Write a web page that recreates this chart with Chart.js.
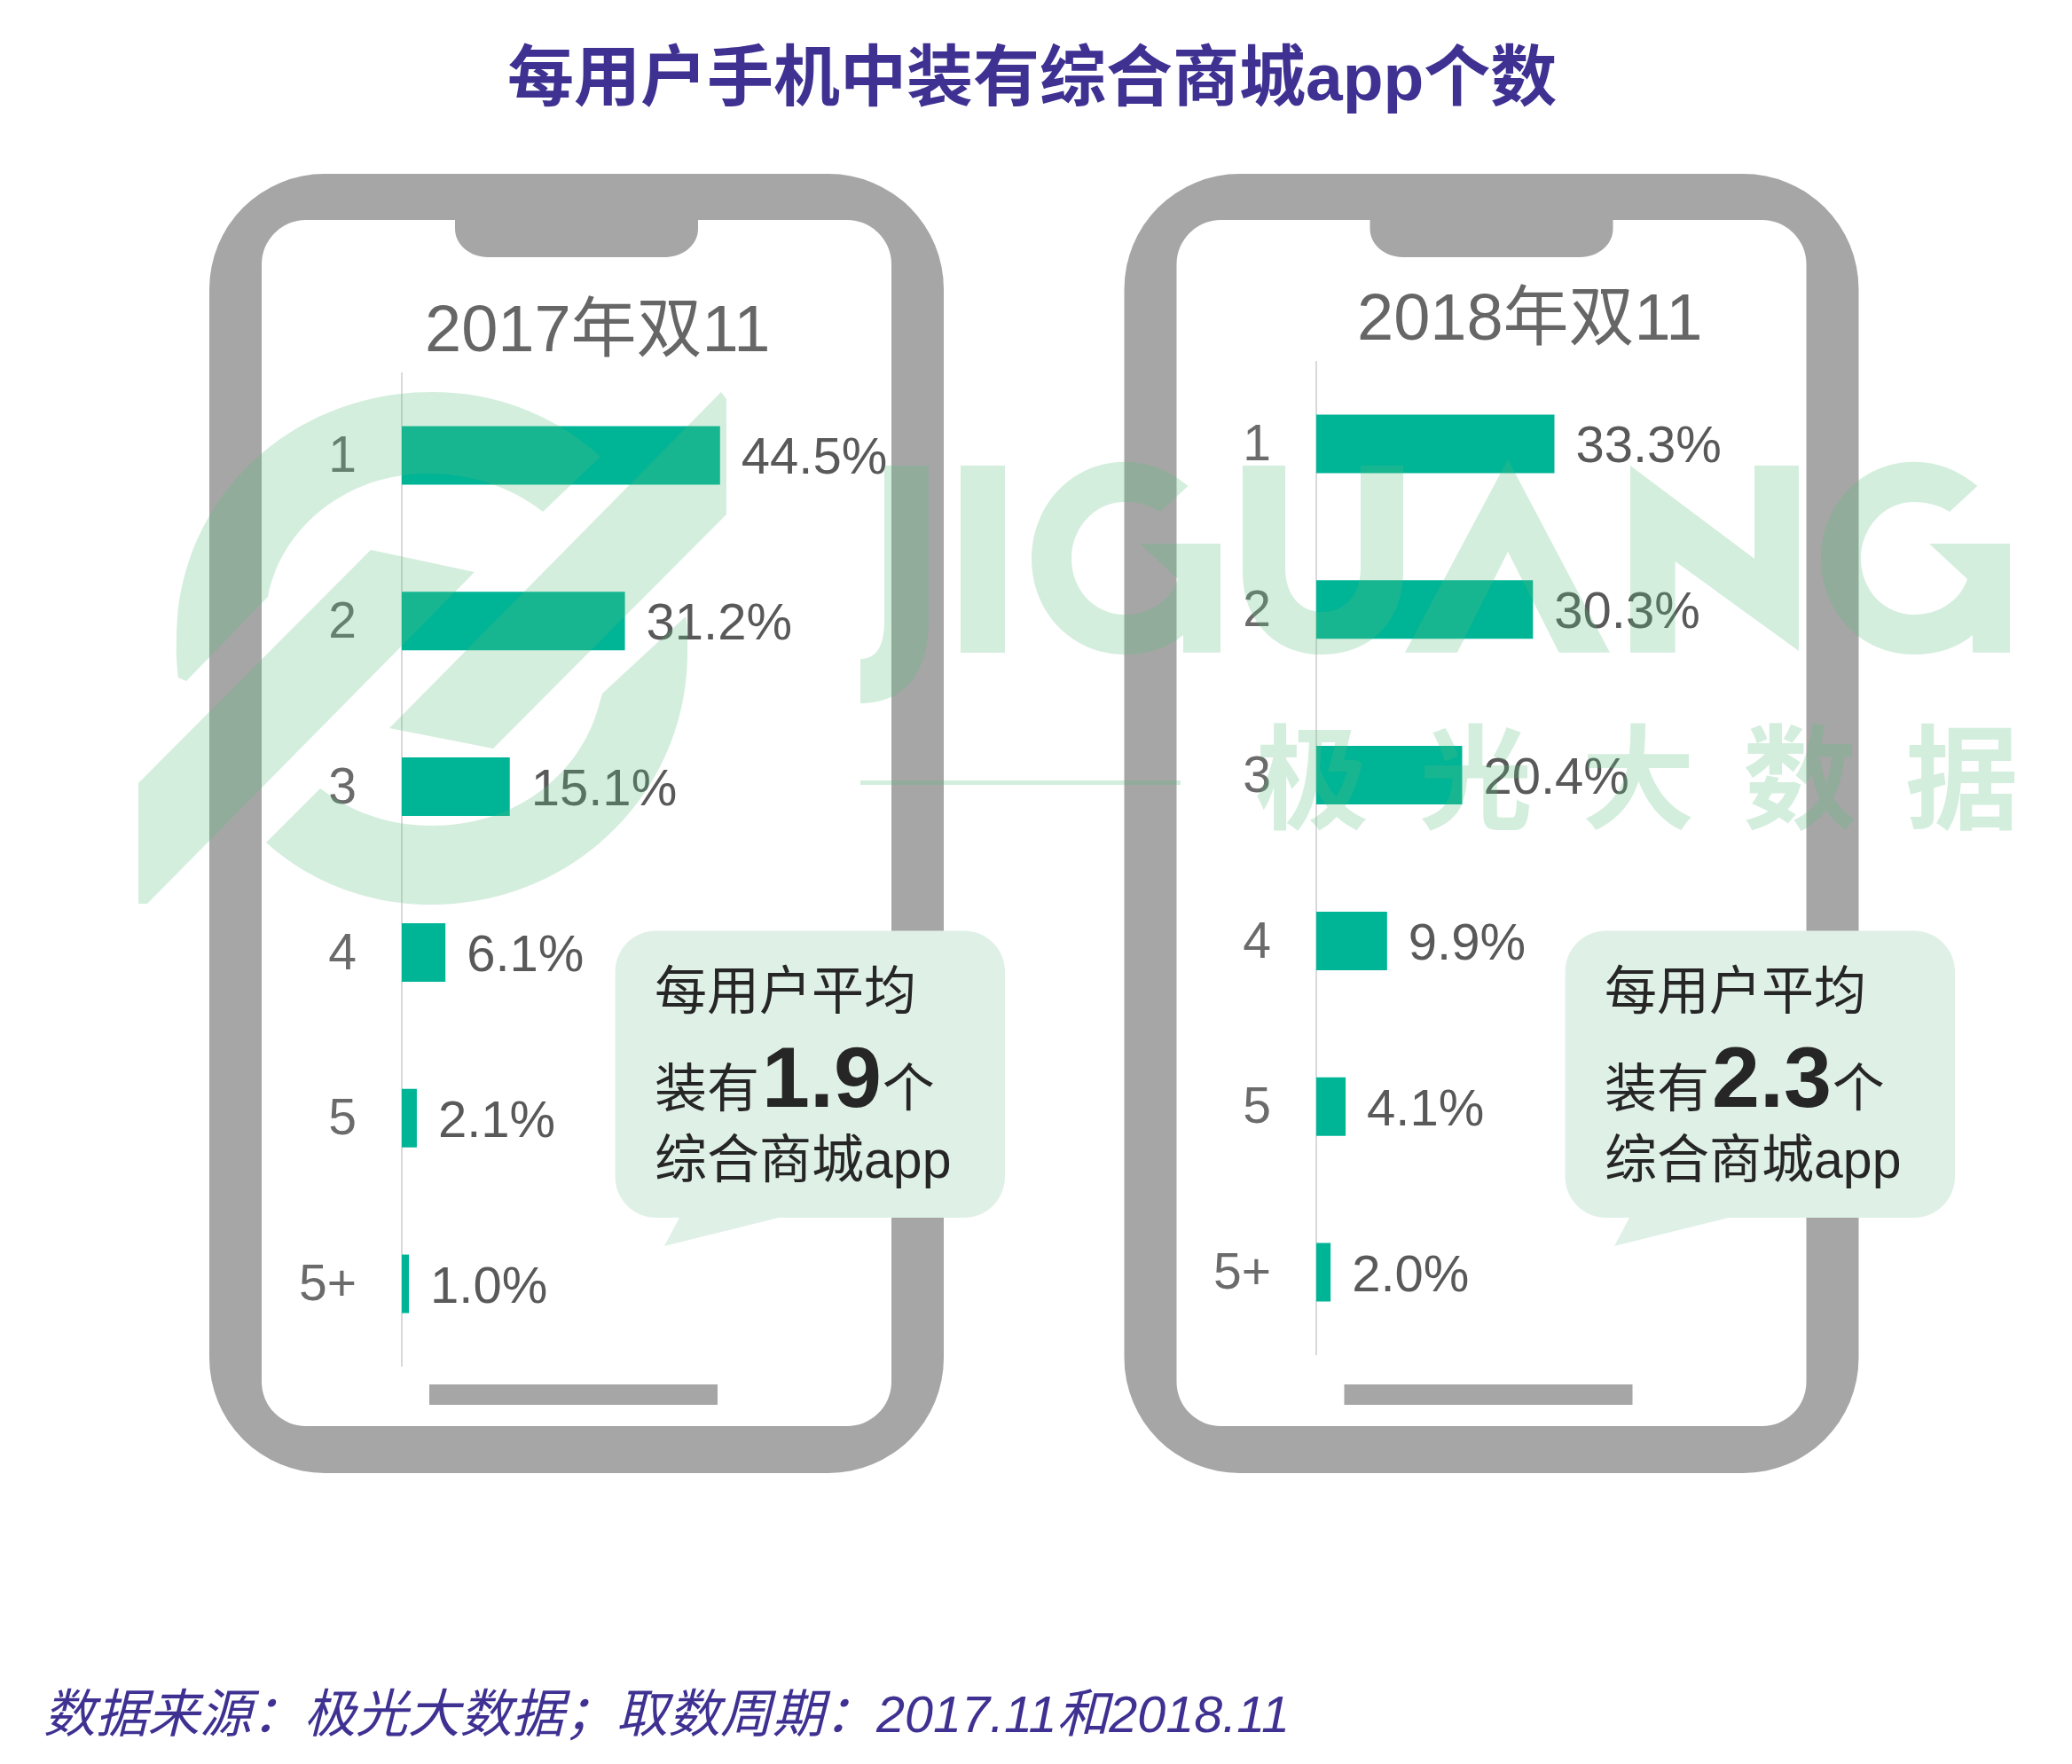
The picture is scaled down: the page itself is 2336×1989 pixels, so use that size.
<!DOCTYPE html>
<html lang="zh">
<head>
<meta charset="utf-8">
<title>每用户手机中装有综合商城app个数</title>
<script src="https://cdn.jsdelivr.net/npm/chart.js@4/dist/chart.umd.min.js"></script>
<style>
  html, body { margin: 0; padding: 0; background: #fff; }
  #page { position: relative; width: 2336px; height: 1989px; overflow: hidden; font-family: "Liberation Sans", "Noto Sans CJK SC", sans-serif; }
  #page > svg, #page > canvas { position: absolute; }
  #page > svg { left: 0; top: 0; }
  text { font-family: "Liberation Sans", "Noto Sans CJK SC", sans-serif; }
  .punct { font-family: "Noto Sans CJK TC", sans-serif; }
</style>
</head>
<body>
<div id="page">

  <!-- phones and titles, under the charts -->
  <svg width="2336" height="1989" style="z-index:1">
    <defs>
      <g id="phone">
        <rect x="236" y="196" width="828" height="1465" rx="130" fill="#a6a6a6"/>
        <rect x="295" y="248" width="710" height="1360" rx="50" fill="#fff"/>
        <path d="M513 248 H787 V258 C787 276 770 290 750 290 H550 C530 290 513 276 513 258 Z" fill="#a6a6a6"/>
        <rect x="484" y="1561" width="325" height="23" fill="#a6a6a6"/>
      </g>
    </defs>
    <use href="#phone"/>
    <use href="#phone" x="1031.5"/>
    <text x="572" y="113" font-size="75" font-weight="bold" fill="#3f3192">每用户手机中装有综合商城app个数</text>
    <text x="479" y="396" font-size="74" fill="#666666">2017年双11</text>
    <text x="1530" y="383" font-size="74" fill="#666666">2018年双11</text>
    <text x="49" y="1953" font-size="58.7" font-style="italic" fill="#3f3192">数据来源<tspan class="punct">：</tspan>极光大数据<tspan class="punct">；</tspan>取数周期<tspan class="punct">：</tspan><tspan font-size="57.5">2017.11</tspan>和<tspan font-size="57.5">2018.11</tspan></text>
  </svg>

  <canvas id="chart2017" style="left:303px;top:420px;z-index:2"></canvas>
  <canvas id="chart2018" style="left:1334px;top:407px;z-index:2"></canvas>

  <!-- watermark goes over the charts -->
  <svg width="2336" height="1989" style="z-index:3">
    <g fill="rgb(90,190,128)" opacity="0.26">
      <path d="M201 764 C198 740 199 730 199 720 C199 565 325 442 487 442 C565 442 630 472 677 515 L612 577 C575 548 530 534 483 534 C385 534 315 600 302 673 L210 768 Z"/>
      <path d="M813 442 L819 450 V580 L556 844 L439 821 Z"/>
      <path d="M156 883 L418 620 L535 645 L166 1019 H156 Z"/>
      <path d="M773 695 C776 710 775 725 775 736 C775 895 645 1020 487 1020 C415 1020 350 995 300 950 L361 889 C400 918 440 931 487 931 C585 931 655 870 675 796 L679 782 Z"/>
      <path d="M997 525 H1047 V700 C1047 770 1010 793 970 793 V743 C990 743 997 725 997 700 Z"/>
      <rect x="1083" y="525" width="50" height="211"/>
      <path id="wmG" d="M1339.5 548 C1318 530 1295 520.7 1268 520.7 C1208 520.7 1163 570 1163 630 C1163 690 1208 738 1268 738 C1295 738 1318 730 1334 716 V735.7 H1376 V613 H1285 L1328 653 C1320 677 1296 693 1268 693 C1234 693 1208 665 1208 630 C1208 595 1234 566 1268 566 C1283 566 1297 570 1308 577 Z"/>
      <path d="M1401 525 H1449 V640 C1449 670 1465 690 1491 690 C1517 690 1534 670 1534 640 V525 H1582 V645 C1582 700 1545 738 1491 738 C1437 738 1401 700 1401 645 Z"/>
      <path d="M1700 518 L1815 735.7 H1757.6 L1700 622 L1643 735.7 H1584 Z"/>
      <path d="M1838 525 L1978 630 V525 H2028 V734 L1888.6 633 V735.7 H1838 Z"/>
      <use href="#wmG" x="890"/>
      <rect x="970" y="880" width="361" height="5"/>
      <text x="1415 1600 1783 1965 2148" y="925" font-size="128" font-weight="bold">极光大数据</text>
    </g>
  </svg>

  <!-- speech bubbles on top of everything -->
  <svg width="2336" height="1989" style="z-index:4">
    <defs>
      <path id="bubble" d="M739.6 1049.5 H1087 A46 46 0 0 1 1133 1095.5 V1327 A46 46 0 0 1 1087 1373 H878 L749 1405 L766 1373 H739.6 A46 46 0 0 1 693.6 1327 V1095.5 A46 46 0 0 1 739.6 1049.5 Z" fill="#dff0e7"/>
    </defs>
    <use href="#bubble"/>
    <use href="#bubble" x="1071"/>
    <g font-size="59" fill="#262626">
      <text x="738" y="1138">每用户平均</text>
      <text x="738" y="1248">装有<tspan dx="3" font-size="97" font-weight="bold">1.9</tspan><tspan dx="1">个</tspan></text>
      <text x="738" y="1328">综合商城app</text>
      <text x="1809" y="1138">每用户平均</text>
      <text x="1809" y="1248">装有<tspan dx="3" font-size="97" font-weight="bold">2.3</tspan><tspan dx="1">个</tspan></text>
      <text x="1809" y="1328">综合商城app</text>
    </g>
  </svg>
</div>

<script>
// 安装个数分类
const categories = ['1', '2', '3', '4', '5', '5+'];
const values2017 = [44.5, 31.2, 15.1, 6.1, 2.1, 1.0];
const values2018 = [33.3, 30.3, 20.4, 9.9, 4.1, 2.0];

const xMax = 80;
const barColor = '#00b496';
const fontName = '"Liberation Sans", "Noto Sans CJK SC", sans-serif';

// escreve o valor à direita de cada barra
const valueLabels = {
    id: 'valueLabels',
    afterDatasetsDraw(chart) {
        const ctx = chart.ctx;
        const values = chart.data.datasets[0].data;
        ctx.save();
        ctx.font = '58px ' + fontName;
        ctx.fillStyle = '#595959';
        ctx.textAlign = 'left';
        ctx.textBaseline = 'middle';
        chart.getDatasetMeta(0).data.forEach(function (bar, i) {
            ctx.fillText(values[i].toFixed(1) + '%', bar.x + 24, bar.y + 5);
        });
        ctx.restore();
    }
};

function drawChart(id, values) {
    const canvas = document.getElementById(id);
    canvas.width = 795;
    canvas.height = 1121;
    canvas.style.width = '795px';
    canvas.style.height = '1121px';

    new Chart(canvas, {
        type: 'bar',
        data: {
            labels: categories,
            datasets: [{
                data: values,
                backgroundColor: barColor,
                barPercentage: 0.3534,
                categoryPercentage: 1
            }]
        },
        options: {
            indexAxis: 'y',
            responsive: false,
            animation: false,
            devicePixelRatio: 1,
            layout: { padding: 0 },
            plugins: {
                legend: { display: false },
                tooltip: { enabled: false }
            },
            scales: {
                x: { display: false, min: 0, max: xMax },
                y: {
                    // largura fixa e sem margem extra, o eixo fica onde deve
                    afterFit: function (scale) {
                        scale.width = 150;
                        scale.paddingTop = 0;
                        scale.paddingBottom = 0;
                    },
                    grid: { display: false, drawTicks: false },
                    border: { display: true, color: '#d9d9d9', width: 2 },
                    ticks: {
                        color: '#6b6b6b',
                        padding: 51,
                        labelOffset: 3,
                        font: { family: fontName, size: 57 }
                    }
                }
            }
        },
        plugins: [valueLabels]
    });
}

drawChart('chart2017', values2017);
drawChart('chart2018', values2018);
</script>
</body>
</html>
